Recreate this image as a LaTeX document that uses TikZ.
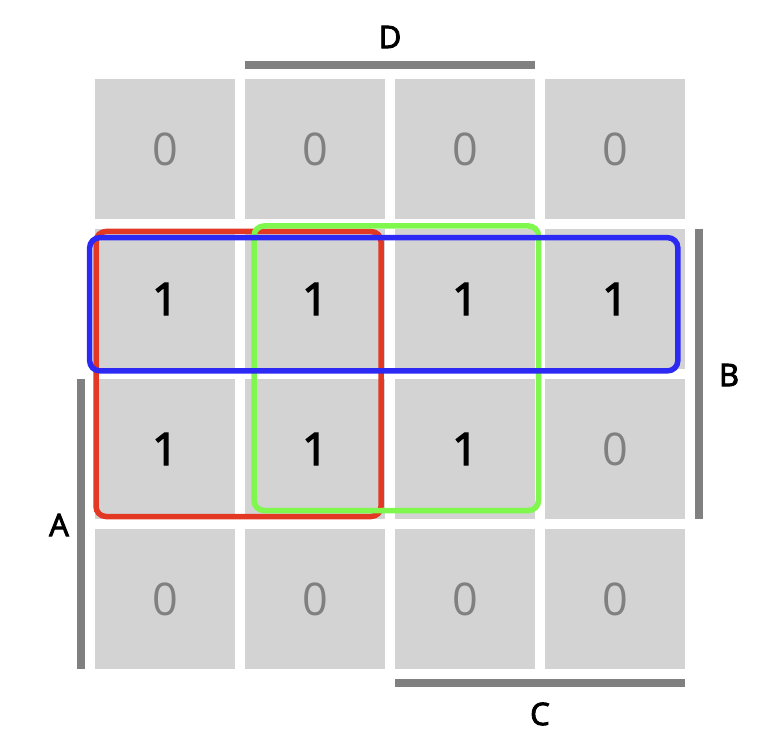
\documentclass[tikz,border=0pt]{standalone}
\usepackage{fontspec}
\setmainfont{Open Sans}
\newfontfamily\onefont{Open Sans}[FakeBold=3]
\newfontfamily\zerofont{Open Sans}
\definecolor{cellgray}{HTML}{D3D3D3}
\definecolor{bargray}{HTML}{808080}
\definecolor{zerogray}{HTML}{808080}
\definecolor{gred}{RGB}{226,56,36}
\definecolor{ggreen}{RGB}{128,247,76}
\definecolor{gblue}{RGB}{45,41,245}
\begin{document}
\begin{tikzpicture}[x=1pt,y=-1pt,
  cellbox/.style={fill=cellgray,draw=none,minimum width=140pt,minimum height=140pt,inner sep=0pt,anchor=center},
  onecell/.style={cellbox,font=\onefont\fontsize{45}{45}\selectfont,text=black},
  zerocell/.style={cellbox,font=\zerofont\fontsize{45}{45}\selectfont,text=zerogray},
  bar/.style={draw=bargray,line width=8pt},
  varlabel/.style={font=\onefont\fontsize{31}{31}\selectfont,text=black,inner sep=0pt},
  group/.style={line width=5.5pt,rounded corners=10pt}]
\useasboundingbox (0,0) rectangle (780,733);
% row 1
\node[zerocell] (c11) at (165,149) {0};
\node[zerocell] (c12) at (315,149) {0};
\node[zerocell] (c13) at (465,149) {0};
\node[zerocell] (c14) at (615,149) {0};
% row 2
\node[onecell] (c21) at (165,299) {1};
\node[onecell] (c22) at (315,299) {1};
\node[onecell] (c23) at (465,299) {1};
\node[onecell] (c24) at (615,299) {1};
% row 3
\node[onecell] (c31) at (165,449) {1};
\node[onecell] (c32) at (315,449) {1};
\node[onecell] (c33) at (465,449) {1};
\node[zerocell] (c34) at (615,449) {0};
% row 4
\node[zerocell] (c41) at (165,599) {0};
\node[zerocell] (c42) at (315,599) {0};
\node[zerocell] (c43) at (465,599) {0};
\node[zerocell] (c44) at (615,599) {0};
% bars
\coordinate (d1) at (245,65); \coordinate (d2) at (535,65);
\draw[bar] (d1) -- (d2);
\coordinate (b1) at (699,229); \coordinate (b2) at (699,519);
\draw[bar] (b1) -- (b2);
\coordinate (a1) at (81,379); \coordinate (a2) at (81,669);
\draw[bar] (a1) -- (a2);
\coordinate (cc1) at (395,683); \coordinate (cc2) at (685,683);
\draw[bar] (cc1) -- (cc2);
% labels
\node[varlabel] (lD) at (390,37) {D};
\node[varlabel] (lB) at (729,375) {B};
\node[varlabel] (lA) at (59,525) {A};
\node[varlabel] (lC) at (540,714) {C};
% groups
\draw[group,draw=gred] (96,231.5) rectangle (381,516.5);
\draw[group,draw=ggreen] (254,226) rectangle (538.5,510.5);
\draw[group,draw=gblue] (89.7,237.7) rectangle (677.8,370.8);
\end{tikzpicture}
\end{document}
